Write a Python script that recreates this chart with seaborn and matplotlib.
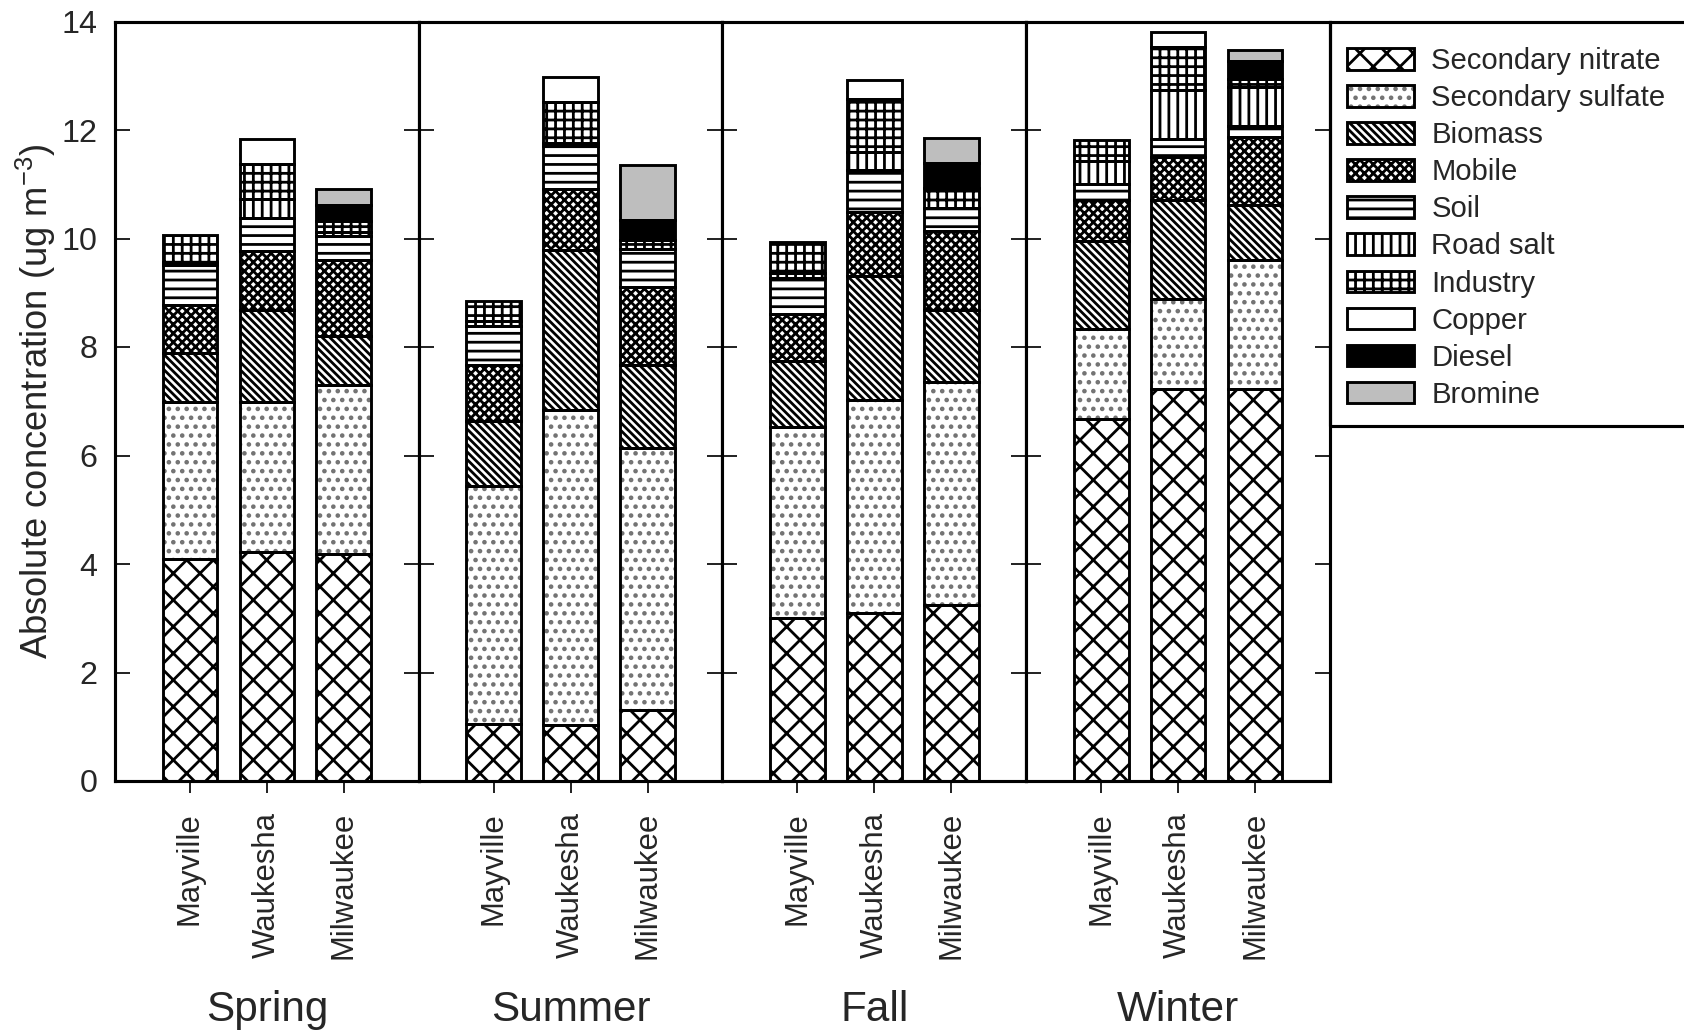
import numpy as np
import pandas as pd
import matplotlib
matplotlib.use("Agg")
import matplotlib.pyplot as plt
from matplotlib.patches import Rectangle, Patch
import seaborn as sns

# ---- data: source contributions (ug m^-3) ----
seasons = ["Spring", "Summer", "Fall", "Winter"]
sites = ["Mayville", "Waukesha", "Milwaukee"]
sources = ["Secondary nitrate", "Secondary sulfate", "Biomass", "Mobile", "Soil",
           "Road salt", "Industry", "Copper", "Diesel", "Bromine"]

# one value per bar, ordered season by season: Mayville, Waukesha, Milwaukee
secondary_nitrate = [4.10, 4.22, 4.19, 1.05, 1.03, 1.31, 3.01, 3.09, 3.25, 6.67, 7.23, 7.23]
secondary_sulfate = [2.88, 2.76, 3.11, 4.39, 5.81, 4.83, 3.51, 3.94, 4.10, 1.67, 1.66, 2.38]
biomass           = [0.91, 1.71, 0.91, 1.19, 2.94, 1.52, 1.22, 2.28, 1.34, 1.62, 1.82, 1.01]
mobile            = [0.89, 1.08, 1.39, 1.03, 1.14, 1.44, 0.86, 1.18, 1.45, 0.75, 0.80, 1.25]
soil              = [0.73, 0.61, 0.45, 0.72, 0.78, 0.70, 0.67, 0.78, 0.43, 0.29, 0.32, 0.21]
road_salt         = [0.05, 0.34, 0.07, 0.10, 0.06, 0.00, 0.10, 0.32, 0.00, 0.43, 0.90, 0.71]
industry          = [0.50, 0.66, 0.20, 0.36, 0.76, 0.18, 0.56, 0.98, 0.37, 0.39, 0.80, 0.15]
copper            = [0.00, 0.45, 0.00, 0.00, 0.46, 0.00, 0.00, 0.35, 0.00, 0.00, 0.27, 0.00]
diesel            = [0.00, 0.00, 0.29, 0.00, 0.00, 0.37, 0.00, 0.00, 0.45, 0.00, 0.00, 0.34]
bromine           = [0.00, 0.00, 0.31, 0.00, 0.00, 1.00, 0.00, 0.00, 0.47, 0.00, 0.00, 0.20]

yticks = [0, 2, 4, 6, 8, 10, 12, 14]

series = [secondary_nitrate, secondary_sulfate, biomass, mobile, soil,
          road_salt, industry, copper, diesel, bromine]
rows = []
for src, vals in zip(sources, series):
    for k, v in enumerate(vals):
        rows.append({"season": seasons[k // 3], "site": sites[k % 3],
                     "source": src, "value": v})
df = pd.DataFrame(rows)

# ---- style ----
sns.set_theme(style="ticks")
plt.rcParams["font.family"] = ["Liberation Sans", "DejaVu Sans"]
plt.rcParams["mathtext.default"] = "regular"
plt.rcParams["hatch.linewidth"] = 1.25
plt.rcParams["axes.linewidth"] = 1.4

# facecolor, hatch colour, hatch pattern
styles = {
    "Secondary nitrate": ("white", "black", "xx"),
    "Secondary sulfate": ("white", "0.45", "..."),
    "Biomass":           ("white", "black", "\\" * 7),
    "Mobile":            ("white", "black", "x" * 6),
    "Soil":              ("white", "black", "---"),
    "Road salt":         ("white", "black", "|||"),
    "Industry":          ("white", "black", "+++"),
    "Copper":            ("white", "black", ""),
    "Diesel":            ("black", "black", ""),
    "Bromine":           ("#bebebe", "black", ""),
}
edge_lw = 1.3

DPI = 160
fig, axes = plt.subplots(1, 4, figsize=(1684 / DPI, 1036 / DPI), dpi=DPI, sharey=True)
fig.subplots_adjust(left=115 / 1684, right=1330 / 1684,
                    bottom=1 - 781 / 1036, top=1 - 21.5 / 1036, wspace=0)

x = np.arange(len(sites))
width = 0.71

for i, (ax, season) in enumerate(zip(axes, seasons)):
    sub = df[df["season"] == season]
    bottom = np.zeros(len(sites))
    for src in sources:
        vals = (sub[sub["source"] == src].set_index("site").loc[sites, "value"]
                .to_numpy(dtype=float))
        fc, hc, hatch = styles[src]
        m = vals > 0
        if m.any():
            ax.bar(x[m], vals[m], width, bottom=bottom[m], color=fc,
                   edgecolor=hc, hatch=hatch, linewidth=0, zorder=2)
            ax.bar(x[m], vals[m], width, bottom=bottom[m], fill=False,
                   edgecolor="black", linewidth=edge_lw, zorder=3)
        bottom += vals

    ax.set_xlim(-0.975, 2.975)
    ax.set_ylim(0, 14)
    ax.set_yticks(yticks)
    ax.set_xticks(x)
    ax.set_xticklabels(sites, rotation=90)
    ax.tick_params(axis="y", direction="in", left=True, right=True,
                   length=6.75, width=0.9, labelsize=14.5, pad=8,
                   labelleft=(i == 0))
    ax.tick_params(axis="x", direction="out", length=5.4, width=0.9,
                   labelsize=14, pad=8.5)
    for sp in ax.spines.values():
        sp.set_visible(True)
        sp.set_color("black")
        sp.set_linewidth(1.4)
    ax.set_xlabel("")
    pos = ax.get_position()
    fig.text((pos.x0 + pos.x1) / 2, 1 - 1021 / 1036, season,
             ha="center", va="baseline", fontsize=19)

axes[0].set_ylabel("Absolute concentration (ug m$^{-3}$)", fontsize=16.4, labelpad=1.5)

# legend with its enclosing box
handles = []
for src in sources:
    fc, hc, hatch = styles[src]
    handles.append((Patch(facecolor=fc, edgecolor=hc, hatch=hatch, linewidth=0),
                    Patch(fill=False, edgecolor="black", linewidth=edge_lw)))
fig.legend(handles, sources, loc="upper left",
           bbox_to_anchor=(1347 / 1684, 1 - 47 / 1036),
           frameon=False, fontsize=13.2, handlelength=2.3, handleheight=0.75,
           handletextpad=0.58, labelspacing=0.31, borderpad=0, borderaxespad=0)
fig.add_artist(Rectangle((1330 / 1684, 1 - 426 / 1036), 0.4, (426 - 21.5) / 1036,
                         transform=fig.transFigure, fill=False,
                         edgecolor="black", linewidth=1.4, clip_on=True))

fig.savefig("out.png", dpi=DPI, facecolor="white")
